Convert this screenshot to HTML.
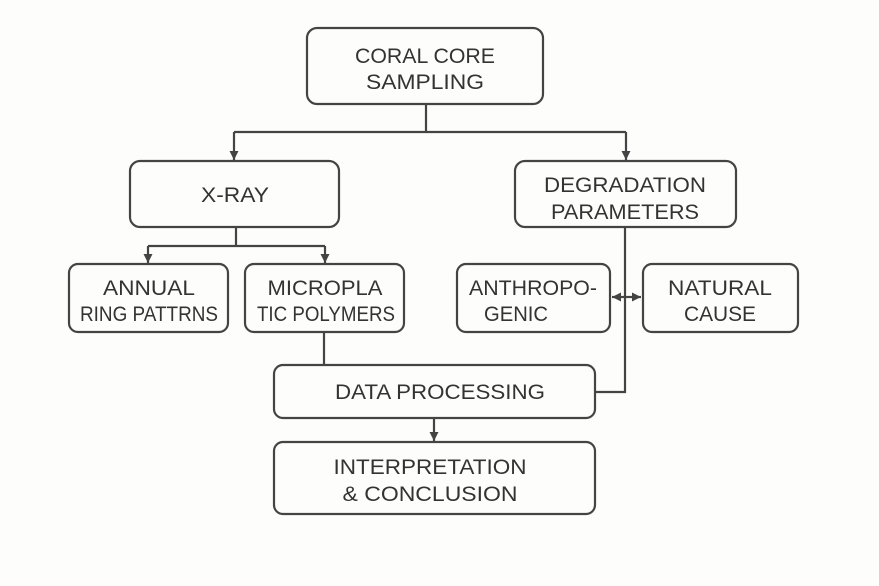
<!DOCTYPE html>
<html><head><meta charset="utf-8"><style>
html,body{margin:0;padding:0;background:#fdfdfc;}
svg{display:block;}
text{font-family:"Liberation Sans",sans-serif;font-size:21.5px;fill:#333;text-anchor:middle;}
</style></head><body>
<svg width="879" height="586" viewBox="0 0 879 586" xmlns="http://www.w3.org/2000/svg">
<defs><marker id="a" markerWidth="12" markerHeight="12" refX="10" refY="6" orient="auto" markerUnits="userSpaceOnUse"><path d="M1,1.5 L10,6 L1,10.5 Z" fill="#444"/></marker></defs>
<g fill="none" stroke="#444" stroke-width="2.2">
<rect x="307" y="28" width="236" height="76" rx="10"/>
<rect x="130" y="161" width="209" height="66" rx="10"/>
<rect x="515" y="161" width="221" height="66" rx="10"/>
<rect x="69" y="264" width="159" height="68" rx="9"/>
<rect x="245" y="264" width="159" height="68" rx="9"/>
<rect x="457" y="264" width="153" height="68" rx="9"/>
<rect x="643" y="264" width="155" height="68" rx="9"/>
<rect x="274" y="365" width="321" height="53" rx="9"/>
<rect x="274" y="442" width="321" height="72" rx="9"/>
<path d="M426,104 V132 M234,132 H626"/>
<path d="M234,132 V160" marker-end="url(#a)"/>
<path d="M626,132 V160" marker-end="url(#a)"/>
<path d="M236,227 V246 M148,246 H325"/>
<path d="M148,246 V263" marker-end="url(#a)"/>
<path d="M325,246 V263" marker-end="url(#a)"/>
<path d="M625,227 V392 H595"/>
<path d="M625,297 H641" marker-end="url(#a)"/>
<path d="M625,297 H612" marker-end="url(#a)"/>
<path d="M324,332 V365"/>
<path d="M434,418 V441" marker-end="url(#a)"/>
</g>
<text x="425" y="63" textLength="140" lengthAdjust="spacingAndGlyphs">CORAL CORE</text>
<text x="425" y="89" textLength="118" lengthAdjust="spacingAndGlyphs">SAMPLING</text>
<text x="235" y="202" textLength="68" lengthAdjust="spacingAndGlyphs">X-RAY</text>
<text x="625" y="192" textLength="162" lengthAdjust="spacingAndGlyphs">DEGRADATION</text>
<text x="625" y="219" textLength="148" lengthAdjust="spacingAndGlyphs">PARAMETERS</text>
<text x="149" y="295" textLength="92" lengthAdjust="spacingAndGlyphs">ANNUAL</text>
<text x="149" y="321" textLength="138" lengthAdjust="spacingAndGlyphs">RING PATTRNS</text>
<text x="325" y="295" textLength="115" lengthAdjust="spacingAndGlyphs">MICROPLA</text>
<text x="326" y="321" textLength="138" lengthAdjust="spacingAndGlyphs">TIC POLYMERS</text>
<text x="533" y="295" textLength="128" lengthAdjust="spacingAndGlyphs">ANTHROPO-</text>
<text x="516" y="321" textLength="64" lengthAdjust="spacingAndGlyphs">GENIC</text>
<text x="720" y="295" textLength="104" lengthAdjust="spacingAndGlyphs">NATURAL</text>
<text x="720" y="321" textLength="72" lengthAdjust="spacingAndGlyphs">CAUSE</text>
<text x="440" y="399" textLength="210" lengthAdjust="spacingAndGlyphs">DATA PROCESSING</text>
<text x="430" y="474" textLength="193" lengthAdjust="spacingAndGlyphs">INTERPRETATION</text>
<text x="430" y="501" textLength="175" lengthAdjust="spacingAndGlyphs">&amp; CONCLUSION</text>
</svg>
</body></html>
